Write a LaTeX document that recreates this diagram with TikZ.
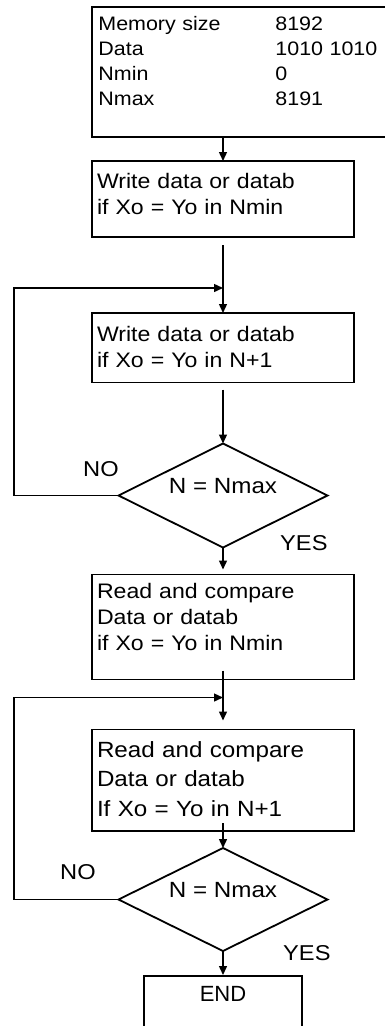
\documentclass[tikz,border=0pt]{standalone}
\usepackage{fontspec}
\setmainfont{Liberation Sans}
\newfontfamily\flowfont[FakeStretch=1.1]{Liberation Sans}
\usetikzlibrary{shapes.geometric, arrows.meta, positioning, calc}

\begin{document}
\begin{tikzpicture}[
    x=1pt, y=-1pt,
    >={Triangle[length=9pt, width=8pt]},
    infobox/.style={rectangle, draw, line width=1.8pt, text width=300pt,
                    align=left, inner xsep=6.4pt, inner ysep=0pt, outer sep=0pt,
                    text height=23.7pt, text depth=106.3pt,
                    font=\flowfont\fontsize{19.5}{25}\selectfont},
    block/.style={rectangle, draw, line width=1.8pt, text width=252pt,
                  align=left, inner xsep=5pt, inner ysep=0pt, outer sep=0pt,
                  font=\flowfont\fontsize{21}{26}\selectfont},
    decision/.style={diamond, draw, line width=1.8pt, aspect=2,
                     minimum width=209pt, minimum height=#1,
                     inner sep=0pt, outer sep=0pt,
                     text height=10pt, text depth=14pt,
                     font=\flowfont\fontsize{22}{26}\selectfont},
    endblock/.style={rectangle, draw, line width=1.8pt, minimum width=158pt,
                     inner sep=0pt, outer sep=0pt,
                     text height=25pt, text depth=50pt,
                     font=\fontsize{22}{26}\selectfont},
    arrow/.style={->, line width=1.4pt},
    lbl/.style={inner sep=0pt, font=\flowfont\fontsize{21.5}{26}\selectfont},
]
    \useasboundingbox (0,0) rectangle (385,1026);
    \clip (0,0) rectangle (385,1026);

    % Settings
    \node[infobox, anchor=north west] (info) at (92,7)
          {\makebox[177pt][l]{Memory size}8192\\
           \makebox[177pt][l]{Data}1010 1010\\
           \makebox[177pt][l]{Nmin}0\\
           \makebox[177pt][l]{Nmax}8191};

    % Write pass
    \node[block, below=24pt of info.south west, anchor=north west,
          text height=27pt, text depth=49pt] (write0)
          {Write data or datab\\if Xo = Yo in Nmin};
    \node[block, below=76pt of write0, text height=28pt, text depth=41.5pt] (write1)
          {Write data or datab\\if Xo = Yo in N+1};
    \node[decision=104pt, below=61pt of write1] (test1) {N = Nmax};

    % Read pass
    \node[block, below=27pt of test1, text height=24pt, text depth=81pt] (read0)
          {Read and compare\\Data or datab\\if Xo = Yo in Nmin};
    \node[block, below=50pt of read0, text height=27.5pt, text depth=74pt,
          font=\flowfont\fontsize{22}{29.5}\selectfont] (read1)
          {Read and compare\\Data or datab\\If Xo = Yo in N+1};
    \node[decision=103pt, below=17pt of read1] (test2) {N = Nmax};

    \node[endblock, below=25pt of test2] (stop) {END};

    % Labels
    \node[lbl, anchor=base west] (no1) at (83,476) {NO};
    \node[lbl, anchor=base west] (yes1) at (280,550) {YES};
    \node[lbl, anchor=base west] (no2) at (60,879) {NO};
    \node[lbl, anchor=base west] (yes2) at (283,960) {YES};

    % Flow
    \draw[arrow] (info.south -| write0.north) -- (write0.north);
    \draw[arrow, shorten <=8pt] (write0) -- (write1);
    \draw[arrow, shorten <=7pt] (write1) -- (test1);
    \draw[arrow, shorten >=5pt] (test1) -- (read0);
    \draw[arrow, shorten <=-9pt, shorten >=9pt] (read0) -- (read1);
    \draw[arrow, shorten <=-8pt] (read1) -- (test2);
    \draw[arrow, shorten >=1pt] (test2) -- (stop);

    % Loops back
    \coordinate (join1) at ($(write1.north)+(0,-25)$);
    \coordinate (join2) at ($(read1.north)+(0,-32)$);
    \draw[arrow] (test1.west) -| ($(join1)+(-209,0)$) -- (join1);
    \draw[arrow] (test2.west) -| ($(join2)+(-209,0)$) -- (join2);

\end{tikzpicture}
\end{document}
